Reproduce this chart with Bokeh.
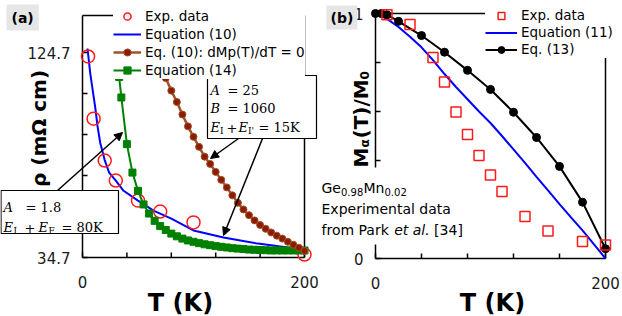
import numpy as np
from bokeh.plotting import figure
from bokeh.layouts import row
from bokeh.core.properties import value
from bokeh.models import (Range1d, Legend, LegendItem, Label, BoxAnnotation, Arrow,
                          NormalHead)
from bokeh.embed import file_html
from bokeh.resources import INLINE

# ---------------- panel (a) data ----------------
exp_a_T = [5, 10, 20, 30, 50, 70, 100, 200]
exp_a_rho = [123.0, 95.7, 77.3, 68.5, 59.7, 54.9, 50.1, 36.0]

eq10_T = [4.5, 7, 11.5, 13.5, 16, 20, 24, 30, 37, 50, 64, 80, 100, 127, 158, 185, 200]
eq10_rho = [126.5, 115.5, 100.5, 92.5, 85.0, 77.5, 72.0, 68.5, 64.0, 59.7, 55.3, 51.8,
            46.6, 43.5, 40.8, 39.1, 38.7]

eq10dm_T = [75, 80, 85, 90, 95, 100, 105, 110, 115, 120, 125, 130, 135, 140, 145, 150,
            155, 160, 165, 170, 175, 180, 185, 190, 195, 200]
eq10dm_rho = [113.5, 108.0, 103.0, 97.5, 92.3, 87.7, 83.3, 79.0, 75.8, 72.3, 68.8, 65.5,
              62.0, 58.7, 55.8, 53.3, 51.0, 49.0, 47.3, 45.7, 44.3, 43.0, 41.6, 40.3,
              39.0, 37.6]

eq14_T = [33, 35, 40, 45, 50, 55, 60, 65, 70, 75, 80, 85, 90, 95, 100, 105, 110, 115,
          120, 125, 130, 135, 140, 145, 150, 155, 160, 165, 170, 175, 180, 185, 190,
          195, 200]
eq14_rho = [114.0, 105.0, 84.5, 72.0, 64.0, 58.0, 54.0, 50.8, 48.5, 46.8, 45.2, 44.0,
            43.0, 42.2, 41.6, 41.0, 40.5, 40.1, 39.7, 39.4, 39.1, 38.8, 38.6, 38.4,
            38.2, 38.1, 38.0, 37.9, 37.8, 37.8, 37.8, 37.8, 37.8, 37.8, 37.8]

a_xticks = [0, 200]
a_xminor = [40, 80, 120, 160]
a_yticks = [34.7, 124.7]
a_yminor = [52.7, 70.7, 88.7, 106.7]
A_LIMITS = (0, 200, 34.7, 141.0)

# ---------------- panel (b) data ----------------
exp_b_T = [10, 30, 50, 60, 70, 80, 90, 100, 110, 130, 150, 180, 200]
exp_b_M = [0.995, 0.955, 0.82, 0.72, 0.598, 0.506, 0.42, 0.341, 0.273, 0.171, 0.112,
           0.069, 0.055]

eq11_T = [0, 10, 20, 30, 40, 50, 60, 70, 80, 90, 100, 110, 120, 130, 140, 150, 160, 170,
          180, 190, 200]
eq11_M = [1.0, 0.978, 0.945, 0.905, 0.862, 0.81, 0.753, 0.70, 0.65, 0.60, 0.553, 0.50,
          0.445, 0.39, 0.333, 0.278, 0.222, 0.168, 0.115, 0.058, 0.0]

eq13_T = [0, 5, 10, 20, 40, 60, 80, 100, 120, 140, 160, 180, 200]
eq13_M = [1.0, 1.0, 0.995, 0.968, 0.91, 0.842, 0.768, 0.69, 0.597, 0.494, 0.376, 0.23,
          0.04]

b_xticks = [0, 200]
b_xminor = [40, 80, 120, 160]
b_yticks = [0, 1]
b_yminor = [0.2, 0.4, 0.6, 0.8]
B_LIMITS = (0, 200, 0.0, 1.0)

SANS = "DejaVu Sans"
SERIF = "DejaVu Serif"
RED = "#FF1A1A"
BLUE = "#0000FF"
GREEN = "#008000"
BROWN_LINE = "#A0522D"
BROWN_FILL = "#8B1C00"
H = 316


def make_panel(width, org_x, spine, vals, xt, xminor, yt, yminor, xlab_dy, ylab_dx):
    L, R, T, B = spine
    xmin, xmax, ymin, ymax = vals
    sx = (R - L) / (xmax - xmin)
    sy = (B - T) / (ymax - ymin)
    p = figure(width=width, height=H,
               x_range=Range1d(xmin - (L - org_x) / sx, xmax + (org_x + width - R) / sx),
               y_range=Range1d(ymin - (H - B) / sy, ymax + T / sy),
               x_axis_type=None, y_axis_type=None,
               output_backend="svg", toolbar_location=None,
               min_border_left=0, min_border_right=0,
               min_border_top=0, min_border_bottom=0)
    p.outline_line_color = None
    p.background_fill_color = "white"
    p.border_fill_color = "white"
    p.xgrid.visible = False
    p.ygrid.visible = False
    # frame (spines)
    p.segment(x0=[xmin, xmin, xmin, xmax], y0=[ymin, ymin, ymax, ymin],
              x1=[xmax, xmin, xmax, xmax], y1=[ymin, ymax, ymax, ymax],
              line_color="black", line_width=1.5)
    # inward ticks
    xs = xt + xminor
    ys = yt + yminor
    p.segment(x0=xs, y0=[ymin] * len(xs), x1=xs, y1=[ymin + 5 / sy] * len(xs),
              line_color="black", line_width=1.5)
    p.segment(x0=[xmin] * len(ys), y0=ys, x1=[xmin + 5 / sx] * len(ys), y1=ys,
              line_color="black", line_width=1.5)
    # tick labels
    p.text(x=xt, y=[ymin] * len(xt), text=[f"{v:g}" for v in xt],
           text_align="center", text_baseline="middle", y_offset=xlab_dy,
           text_font=value(SANS), text_font_size="15px", text_color="#1a1a1a")
    p.text(x=[xmin] * len(yt), y=yt, text=[f"{v:g}" for v in yt],
           text_align="right", text_baseline="middle", x_offset=-ylab_dx,
           text_font=value(SANS), text_font_size="15px", text_color="#1a1a1a")

    def scr(ix, iy):
        return ix - org_x, H - iy
    return p, scr


def txt(p, scr, ix, iy, s, size, font=SANS, style="normal", align="left",
        baseline="alphabetic", angle=0.0, color="black", **kw):
    x, y = scr(ix, iy)
    p.add_layout(Label(x=x, y=y, x_units="screen", y_units="screen", text=s,
                       text_font=font, text_font_size=f"{size}px", text_font_style=style,
                       text_align=align, text_baseline=baseline, angle=angle,
                       text_color=color, **kw))


def box(p, scr, x0, y0, x1, y1, line=True):
    l, t = scr(x0, y0)
    r, b = scr(x1, y1)
    p.add_layout(BoxAnnotation(left=l, right=r, top=t, bottom=b,
                               left_units="screen", right_units="screen",
                               top_units="screen", bottom_units="screen",
                               fill_color="white", fill_alpha=1.0,
                               line_color="black" if line else None,
                               line_width=1.2, line_alpha=1.0 if line else 0.0))


def arrow(p, scr, x0, y0, x1, y1):
    xs, ys = scr(x0, y0)
    xe, ye = scr(x1, y1)
    p.add_layout(Arrow(end=NormalHead(size=8, fill_color="black", line_color="black"),
                       x_start=xs, y_start=ys, x_end=xe, y_end=ye,
                       start_units="screen", end_units="screen",
                       line_color="black", line_width=1.5))


# ====================== panel (a) ======================
pa, sa = make_panel(318, 0, (82, 304, 15, 257), A_LIMITS,
                    a_xticks, a_xminor, a_yticks, a_yminor, 24, 12)

r_blue = pa.line(eq10_T, eq10_rho, line_color=BLUE, line_width=2)
r_exp = pa.scatter(exp_a_T, exp_a_rho, marker="circle", size=13, line_color=RED,
                   fill_color=None, line_width=1.5)
r_green_l = pa.line(eq14_T, eq14_rho, line_color=GREEN, line_width=2)
r_green_m = pa.scatter(eq14_T, eq14_rho, marker="square", size=7, line_color=GREEN,
                       fill_color=GREEN)
r_brown_l = pa.line(eq10dm_T, eq10dm_rho, line_color=BROWN_LINE, line_width=2.5)
r_brown_m = pa.scatter(eq10dm_T, eq10dm_rho, marker="circle", size=7,
                       line_color=BROWN_LINE, fill_color=BROWN_FILL, line_width=1)

leg_a = Legend(items=[LegendItem(label="Exp. data", renderers=[r_exp]),
                      LegendItem(label="Equation (10)", renderers=[r_blue]),
                      LegendItem(label="Eq. (10): dMp(T)/dT = 0",
                                 renderers=[r_brown_l, r_brown_m]),
                      LegendItem(label="Equation (14)", renderers=[r_green_l, r_green_m])],
               location=sa(113, 79), label_text_font=SANS, label_text_font_size="13.5px",
               label_text_color="black",
               glyph_width=28, glyph_height=18, label_height=18, label_standoff=4,
               spacing=0, padding=3, margin=0, border_line_color=None,
               background_fill_color="white", background_fill_alpha=1.0)
pa.add_layout(leg_a)

# annotation box 1
box(pa, sa, 207, 75, 316, 138)
txt(pa, sa, 210, 90, "A", 13, SERIF, "italic")
txt(pa, sa, 227, 90, "= 25", 13, SERIF)
txt(pa, sa, 210, 108, "B", 13, SERIF, "italic")
txt(pa, sa, 227, 108, "= 1060", 13, SERIF)
txt(pa, sa, 210, 127, "E", 13, SERIF, "italic")
txt(pa, sa, 219.5, 130, "I", 9, SERIF)
txt(pa, sa, 226, 127, "+", 13, SERIF)
txt(pa, sa, 238, 127, "E", 13, SERIF, "italic")
txt(pa, sa, 247.5, 130, "I'", 9, SERIF)
txt(pa, sa, 258, 127, "= 15K", 13, SERIF)

# annotation box 2
box(pa, sa, 0.5, 190, 118, 233)
txt(pa, sa, 3, 207, "A", 13, SERIF, "italic")
txt(pa, sa, 25, 207, "= 1.8", 13, SERIF)
txt(pa, sa, 3, 227, "E", 13, SERIF, "italic")
txt(pa, sa, 13, 230, "I", 9, SERIF)
txt(pa, sa, 24, 227, "+", 13, SERIF)
txt(pa, sa, 38, 227, "E", 13, SERIF, "italic")
txt(pa, sa, 48, 230, "F", 9, SERIF)
txt(pa, sa, 61, 227, "= 80K", 13, SERIF)

arrow(pa, sa, 57, 190, 122, 132)
arrow(pa, sa, 238, 138, 210, 158)
arrow(pa, sa, 262, 138, 223, 235)

txt(pa, sa, 6, 17, "(a)", 14, SANS, "bold", baseline="middle",
    background_fill_color="#E6E6E6", padding=5)
txt(pa, sa, 38, 128, "\u03c1 (m\u03a9 cm)", 20, SANS, "bold", align="center",
    angle=np.pi / 2)
txt(pa, sa, 180, 302, "T (K)", 24, SANS, "bold", align="center")

# ====================== panel (b) ======================
pb, sb = make_panel(304, 318, (375, 605, 13, 258), B_LIMITS,
                    b_xticks, b_xminor, b_yticks, b_yminor, 24, 12)

r_b_blue = pb.line(eq11_T, eq11_M, line_color=BLUE, line_width=2)
r_b_black_l = pb.line(eq13_T, eq13_M, line_color="black", line_width=2)
r_b_black_m = pb.scatter(eq13_T, eq13_M, marker="circle", size=8, line_color="black",
                         fill_color="black")
r_b_exp = pb.scatter(exp_b_T, exp_b_M, marker="square", size=10, line_color=RED,
                     fill_color=None, line_width=1.5)

leg_b = Legend(items=[LegendItem(label="Exp. data", renderers=[r_b_exp]),
                      LegendItem(label="Equation (11)", renderers=[r_b_blue]),
                      LegendItem(label="Eq. (13)", renderers=[r_b_black_l, r_b_black_m])],
               location=sb(485, 57.5), label_text_font=SANS, label_text_font_size="13.5px",
               label_text_color="black",
               glyph_width=32, glyph_height=17, label_height=17, label_standoff=4,
               spacing=0, padding=3, margin=0, border_line_color=None,
               background_fill_color="white", background_fill_alpha=1.0)
pb.add_layout(leg_b)

# text block over the axis
box(pb, sb, 316, 167, 466, 244, line=False)
txt(pb, sb, 321, 187, "Ge", 14)
txt(pb, sb, 340.5, 191, "0.98", 10)
txt(pb, sb, 363, 187, "Mn", 14)
txt(pb, sb, 384, 191, "0.02", 10)
txt(pb, sb, 321, 208, "Experimental data", 14)
txt(pb, sb, 321, 229, "from Park", 14)
txt(pb, sb, 393.7, 229, "et al.", 14, SANS, "italic")
txt(pb, sb, 433.6, 229, "[34]", 14)

txt(pb, sb, 326, 17, "(b)", 14, SANS, "bold", baseline="middle",
    background_fill_color="#E6E6E6", padding=4)
# rotated y label: M_alpha (T)/M_0
txt(pb, sb, 360, 167, "M", 20, SANS, "bold", angle=np.pi / 2)
txt(pb, sb, 364, 147, "\u03b1", 12, SANS, "bold", angle=np.pi / 2)
txt(pb, sb, 360, 138, "(T)/M", 20, SANS, "bold", angle=np.pi / 2)
txt(pb, sb, 364, 79, "0", 12, SANS, "bold", angle=np.pi / 2)
txt(pb, sb, 492, 302, "T (K)", 24, SANS, "bold", align="center")

layout = row(pa, pb)
with open("out.html", "w") as f:
    f.write(file_html(layout, INLINE))
